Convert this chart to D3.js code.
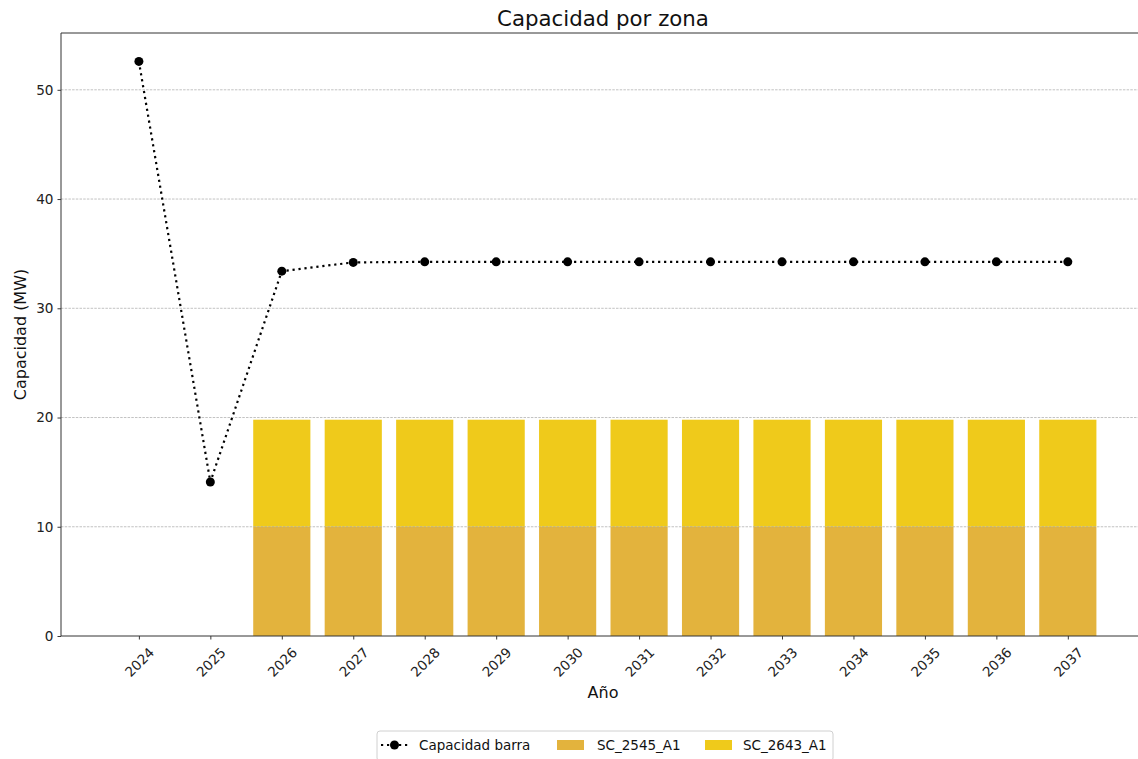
<!DOCTYPE html>
<html>
<head>
<meta charset="utf-8">
<script src="https://cdn.jsdelivr.net/npm/d3@7"></script>
<style>
  html, body { margin: 0; padding: 0; background: #fff; }
  svg { display: block; font-family: "DejaVu Sans", sans-serif; }
</style>
</head>
<body>
<svg id="chart" width="1138" height="759"></svg>
<script>
const years = ["2024","2025","2026","2027","2028","2029","2030","2031","2032","2033","2034","2035","2036","2037"];
const lineValues = [52.6, 14.1, 33.4, 34.2, 34.25, 34.25, 34.25, 34.25, 34.25, 34.25, 34.25, 34.25, 34.25, 34.25];
const sc2545 = [0, 0, 10.0, 10.0, 10.0, 10.0, 10.0, 10.0, 10.0, 10.0, 10.0, 10.0, 10.0, 10.0];
const sc2643 = [0, 0, 9.8, 9.8, 9.8, 9.8, 9.8, 9.8, 9.8, 9.8, 9.8, 9.8, 9.8, 9.8];
const yTicks = [0, 10, 20, 30, 40, 50];
const seriesNames = ["Capacidad barra", "SC_2545_A1", "SC_2643_A1"];
const colors = { sc2545: "#E3B33D", sc2643: "#EFCA1B" };

const svg = d3.select("#chart");
const L = 61, R = 1145, T = 33, B = 636;

const x = d3.scaleLinear().domain([-1.09, 14.08]).range([L, R]);
const y = d3.scaleLinear().domain([0, 55.2]).range([B, T]);
const barW = x(0.8) - x(0);

const idx = years.map((d, i) => i);

// Bars
const gBars = svg.append("g");
gBars.selectAll("rect.b1").data(idx.filter(i => sc2545[i] > 0)).join("rect")
  .attr("x", i => x(i) - barW / 2)
  .attr("width", barW)
  .attr("y", i => y(sc2545[i]))
  .attr("height", i => y(0) - y(sc2545[i]))
  .attr("fill", colors.sc2545);
gBars.selectAll("rect.b2").data(idx.filter(i => sc2643[i] > 0)).join("rect")
  .attr("x", i => x(i) - barW / 2)
  .attr("width", barW)
  .attr("y", i => y(sc2545[i] + sc2643[i]))
  .attr("height", i => y(sc2545[i]) - y(sc2545[i] + sc2643[i]))
  .attr("fill", colors.sc2643);

// Grid (drawn above bars like matplotlib)
svg.append("g").selectAll("line").data(yTicks.filter(t => t > 0)).join("line")
  .attr("x1", L).attr("x2", R)
  .attr("y1", d => y(d)).attr("y2", d => y(d))
  .attr("stroke", "#a8a8a8").attr("stroke-width", 0.7)
  .attr("stroke-dasharray", "2.5,1.2");

// Line
const line = d3.line().x(i => x(i)).y(i => y(lineValues[i]));
svg.append("path").datum(idx)
  .attr("d", line)
  .attr("fill", "none")
  .attr("stroke", "#000")
  .attr("stroke-width", 2.2)
  .attr("stroke-dasharray", "2.2,3.8");
svg.append("g").selectAll("circle").data(idx).join("circle")
  .attr("cx", i => x(i)).attr("cy", i => y(lineValues[i]))
  .attr("r", 4.5).attr("fill", "#000");

// Axes
const yAxis = d3.axisLeft(y).tickValues(yTicks).tickSize(3.5).tickPadding(4).tickFormat(d3.format("d"));
const gy = svg.append("g").attr("transform", `translate(${L},0)`).call(yAxis);
gy.select(".domain").remove();
gy.selectAll("text").attr("font-size", "13.6px").attr("fill", "#222").attr("font-family", "DejaVu Sans");
gy.selectAll("line").attr("stroke", "#222").attr("stroke-width", 0.9);

const xAxis = d3.axisBottom(x).tickValues(idx).tickSize(3.5).tickFormat(i => years[i]);
const gx = svg.append("g").attr("transform", `translate(0,${B})`).call(xAxis);
gx.select(".domain").remove();
gx.selectAll("line").attr("stroke", "#222").attr("stroke-width", 0.9);
gx.selectAll("text")
  .attr("font-size", "13.6px").attr("fill", "#222").attr("font-family", "DejaVu Sans")
  .attr("text-anchor", "middle").attr("dy", null)
  .attr("y", 26).attr("dominant-baseline", "central")
  .attr("transform", "rotate(-45,0,26)");

// Spines
svg.append("line").attr("x1", L).attr("x2", L).attr("y1", T).attr("y2", B).attr("stroke", "#333").attr("stroke-width", 1);
svg.append("line").attr("x1", L).attr("x2", R).attr("y1", B).attr("y2", B).attr("stroke", "#333").attr("stroke-width", 1);
svg.append("line").attr("x1", L).attr("x2", R).attr("y1", T).attr("y2", T).attr("stroke", "#333").attr("stroke-width", 1);
svg.append("line").attr("x1", R).attr("x2", R).attr("y1", T).attr("y2", B).attr("stroke", "#333").attr("stroke-width", 1);

// Title & labels
svg.append("text").attr("x", (L + R) / 2).attr("y", 26).attr("text-anchor", "middle")
  .attr("font-size", "21.3px").attr("fill", "#111").text("Capacidad por zona");
svg.append("text").attr("x", (L + R) / 2).attr("y", 698).attr("text-anchor", "middle")
  .attr("font-size", "16px").attr("fill", "#111").text("Año");
svg.append("text").attr("transform", `translate(26,${(T + B) / 2}) rotate(-90)`).attr("text-anchor", "middle")
  .attr("font-size", "16px").attr("fill", "#111").text("Capacidad (MW)");

// Legend
const lg = svg.append("g");
lg.append("rect").attr("x", 377).attr("y", 731).attr("width", 456).attr("height", 30).attr("rx", 3)
  .attr("fill", "#fff").attr("stroke", "#d0d0d0").attr("stroke-width", 1);
const ly = 745;
lg.append("line").attr("x1", 381).attr("x2", 408).attr("y1", ly).attr("y2", ly)
  .attr("stroke", "#000").attr("stroke-width", 2.2).attr("stroke-dasharray", "2.2,3.8");
lg.append("circle").attr("cx", 394.5).attr("cy", ly).attr("r", 4.5).attr("fill", "#000");
lg.append("text").attr("x", 419).attr("y", ly).attr("dominant-baseline", "central")
  .attr("font-size", "13.5px").attr("fill", "#111").text(seriesNames[0]);
lg.append("rect").attr("x", 557).attr("y", ly - 5).attr("width", 27).attr("height", 10).attr("fill", colors.sc2545);
lg.append("text").attr("x", 597).attr("y", ly).attr("dominant-baseline", "central")
  .attr("font-size", "13.5px").attr("fill", "#111").text(seriesNames[1]);
lg.append("rect").attr("x", 705).attr("y", ly - 5).attr("width", 27).attr("height", 10).attr("fill", colors.sc2643);
lg.append("text").attr("x", 743).attr("y", ly).attr("dominant-baseline", "central")
  .attr("font-size", "13.5px").attr("fill", "#111").text(seriesNames[2]);
</script>
</body>
</html>
